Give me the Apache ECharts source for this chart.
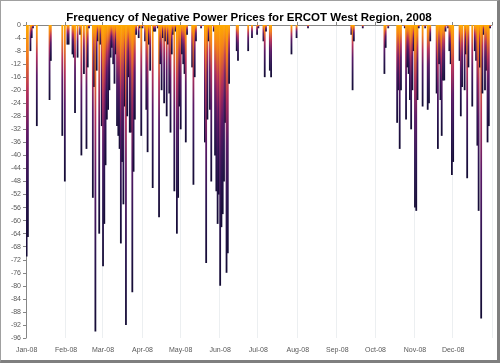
<!DOCTYPE html>
<html>
<head>
<meta charset="utf-8">
<script src="https://cdn.jsdelivr.net/npm/echarts@6/dist/echarts.min.js"></script>
<style>
  html, body { margin: 0; padding: 0; background: #fff; }
  #chart {
    width: 500px;
    height: 363px;
    box-sizing: border-box;
    border: 1px solid #a0a0a0;
    border-right: 3px solid #7f7f7f;
    border-bottom: 3px solid #7f7f7f;
  }
</style>
</head>
<body>
<div id="chart"></div>
<script>
// days of 2008 (0 = Jan 1) that had negative prices, and how many hours (shown negative)
const negDays = [
  0, 1, 3, 4, 5, 8, 18, 19, 28, 30, 32, 33, 36, 37, 38, 40, 42, 43, 45, 47, 48, 49,
  52, 53, 54, 55, 56, 57, 58, 59, 60, 61, 62, 63, 64, 65, 66, 67, 68, 69, 70,
  71, 72, 73, 74, 75, 76, 77, 78, 79, 80, 81, 82, 83, 84, 85, 86, 88, 89, 90, 91,
  93, 94, 95, 96, 97, 99, 100, 101, 103, 104, 105, 106, 107, 108, 109, 110, 111,
  112, 113, 114, 115, 116, 117, 118, 119, 120, 121, 122, 123, 124, 125, 126,
  130, 131, 132, 133, 137, 140, 141, 142, 143, 144, 145, 147, 148, 149, 150,
  151, 152, 153, 154, 155, 156, 157, 158, 159, 165, 166, 174, 177, 181, 182,
  186, 187, 188, 191, 192, 208, 212, 221, 255, 256, 257, 264, 281, 282, 284,
  291, 292, 293, 294, 297, 298, 299, 300, 301, 302, 303, 304, 305, 306, 307, 308,
  311, 313, 315, 316, 317, 322, 323, 324, 325, 326, 327, 328, 329, 331, 332, 333,
  334, 335, 340, 341, 342, 344, 345, 346, 347, 350, 352, 353, 354, 355, 356, 357,
  358, 359, 360, 361, 362, 363, 364
]
const negHours = [
  -71, -65, -8, -4, -1, -31, -23, -11, -34, -48, -6, -6, -9, -10, -27, -10, -3, -40, -15, -38, -13, -1,
  -53, -19, -94, -14, -5, -64, -6, -31, -74, -61, -43, -29, -26, -20, -10, -7, -12, -18, -9,
  -31, -34, -38, -67, -42, -55, -25, -92, -28, -16, -33, -33, -82, -45, -29, -3, -4, -1, -34, -1,
  -5, -26, -39, -6, -14, -50, -2, -2, -1, -59, -12, -20, -4, -24, -5, -28, -6,
  -21, -33, -9, -3, -51, -2, -64, -53, -25, -32, -9, -12, -15, -36, -3,
  -13, -49, -16, -5, -1, -36, -73, -29, -5, -26, -48, -2, -40, -51, -61,
  -52, -80, -62, -58, -48, -30, -76, -70, -18, -8, -11, -8, -4, -3, -1,
  -5, -16, -2, -14, -16, -9, -4, -1, -3, -20, -5, -1, -15, -7, -1,
  -30, -20, -38, -20, -1, -29, -13, -15, -23, -32, -20, -8, -56, -57, -23, -1,
  -25, -1, -26, -24, -5, -21, -38, -12, -23, -34, -17, -17, -2, -1, -8, -12,
  -46, -42, -11, -28, -19, -20, -9, -47, -13, -25, -8, -11, -37, -57, -13, -90,
  -21, -3, -20, -14, -36, -31, -1
]
const monthLabels = ['Jan-08', 'Feb-08', 'Mar-08', 'Apr-08', 'May-08', 'Jun-08',
  'Jul-08', 'Aug-08', 'Sep-08', 'Oct-08', 'Nov-08', 'Dec-08']
const monthDays = [31, 29, 31, 30, 31, 30, 31, 31, 30, 31, 30, 31]

// one category per day of the year
const days = []
const monthStart = {}
monthDays.forEach((n, m) => {
  monthStart[days.length] = monthLabels[m]
  for (let d = 1; d <= n; d++) {
    days.push('2008-' + String(m + 1).padStart(2, '0') + '-' + String(d).padStart(2, '0'))
  }
})

const values = days.map(() => null)
negDays.forEach((d, i) => { values[d] = negHours[i] })

const isMonthStart = (idx) => monthStart[idx] !== undefined

const chart = echarts.init(document.getElementById('chart'))

// each bar fades from orange at zero down to dark navy at its tip
const barColor = new echarts.graphic.LinearGradient(0, 0, 0, 1, [
  { offset: 0, color: '#ffaa00' },
  { offset: 0.12, color: '#f4801a' },
  { offset: 0.3, color: '#b5305a' },
  { offset: 0.5, color: '#5a1866' },
  { offset: 0.75, color: '#2a1450' },
  { offset: 1, color: '#140c35' }
])

const axisGray = '#868686'
const labelGray = '#595959'

const option = {
  backgroundColor: '#fff',
  animation: false,
  title: {
    text: 'Frequency of Negative Power Prices for ERCOT West Region, 2008',
    left: 'center',
    top: 6,
    textStyle: {
      fontFamily: '"Liberation Sans", sans-serif',
      fontSize: 11.5,
      fontWeight: 'bold',
      color: '#000'
    }
  },
  grid: {
    left: 25,
    right: 5,
    top: 24,
    bottom: 22
  },
  xAxis: [
    {
      type: 'category',
      data: days,
      position: 'bottom',
      axisLine: { show: false, onZero: false },
      axisTick: { show: false },
      axisLabel: {
        interval: (idx) => isMonthStart(idx),
        formatter: (val, idx) => monthStart[idx] || '',
        color: labelGray,
        fontSize: 7,
        fontFamily: '"Liberation Sans", sans-serif',
        margin: 9
      },
      splitLine: {
        show: true,
        interval: (idx) => isMonthStart(idx) && idx > 0,
        lineStyle: { color: '#eceff1', width: 1 }
      }
    },
    {
      type: 'category',
      data: days,
      position: 'top',
      axisLine: { show: true, onZero: false, lineStyle: { color: axisGray } },
      axisTick: {
        show: true,
        interval: (idx) => isMonthStart(idx),
        length: 3,
        lineStyle: { color: axisGray }
      },
      axisLabel: { show: false },
      splitLine: { show: false }
    }
  ],
  yAxis: {
    type: 'value',
    min: -96,
    max: 0,
    interval: 4,
    axisLine: { show: true, lineStyle: { color: axisGray } },
    axisTick: { show: true, length: 3, lineStyle: { color: axisGray } },
    axisLabel: {
      color: labelGray,
      fontSize: 7,
      fontFamily: '"Liberation Sans", sans-serif',
      margin: 5
    },
    splitLine: { show: false }
  },
  series: [
    {
      name: 'Hours with negative prices',
      type: 'bar',
      xAxisIndex: 0,
      data: values,
      barWidth: 1.8,
      itemStyle: { color: barColor }
    }
  ]
}

chart.setOption(option)
</script>
</body>
</html>
